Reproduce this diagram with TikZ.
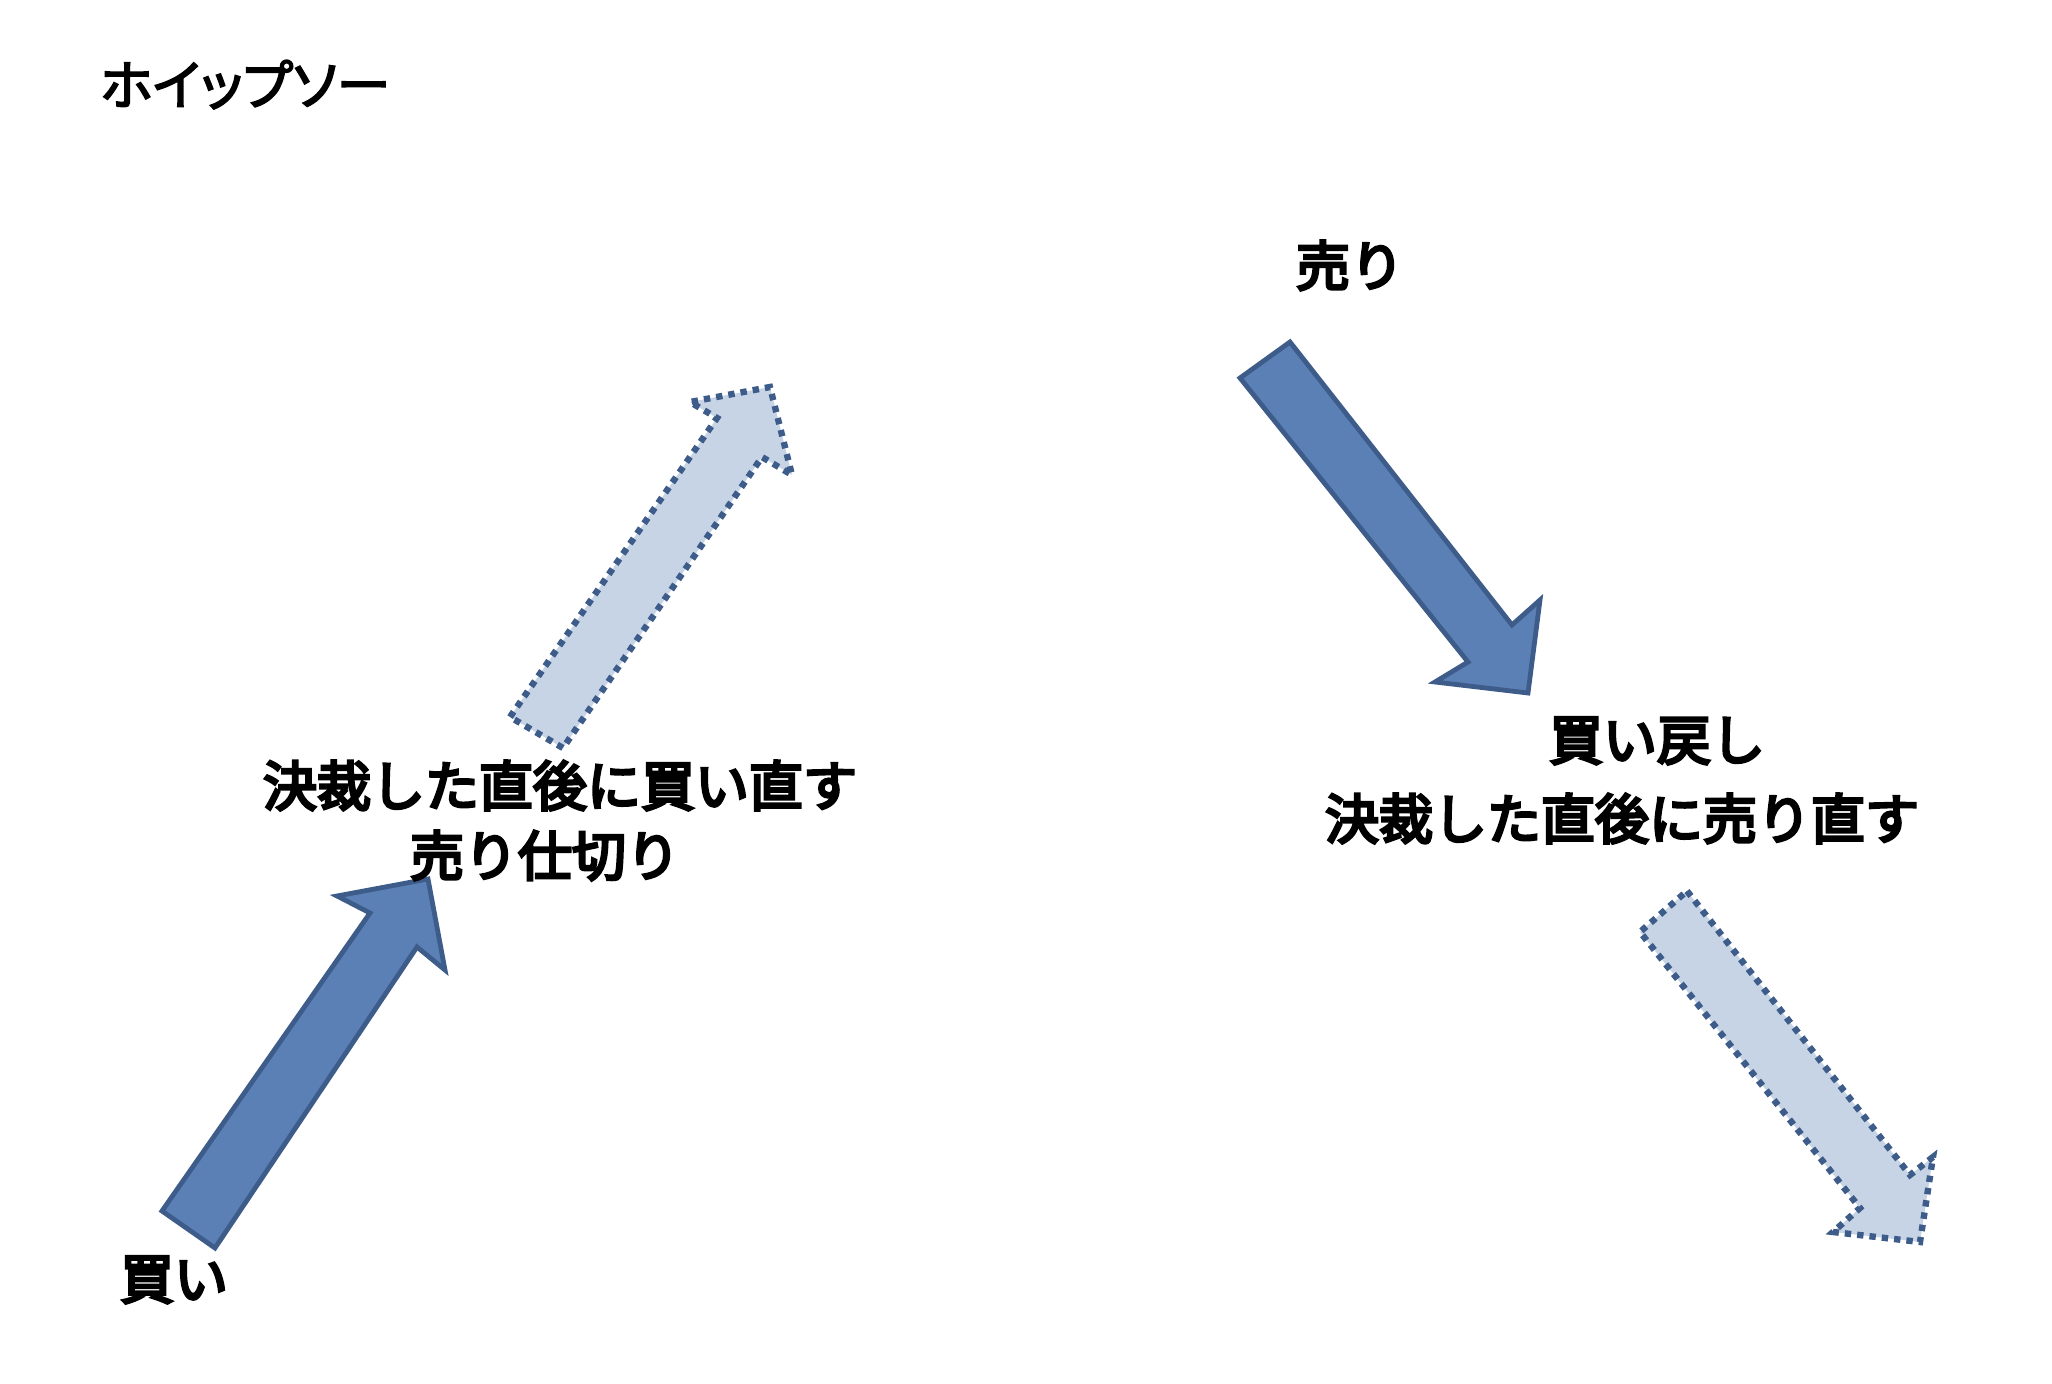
\documentclass[tikz,border=0pt]{standalone}
\usepackage{fontspec}
\newfontfamily\jp{Noto Sans CJK JP}
\newfontfamily\jpp{Noto Sans CJK JP}[RawFeature=+palt]
\newcommand\embtext[2]{\special{pdf:literal direct 2 Tr #1 w}#2\special{pdf:literal direct 0 Tr}}
\definecolor{solidfill}{HTML}{5A80B6}
\definecolor{arrowline}{HTML}{3E5C8A}
\definecolor{lightfill}{HTML}{C6D4E6}
\tikzset{
  solidarrow/.style={fill=solidfill, draw=arrowline, line width=2.4pt, line join=miter},
  dotarrow/.style={fill=lightfill, draw=arrowline, line width=3.2pt, dash pattern=on 3.2pt off 3pt, line join=miter},
  lbl/.style={inner sep=0pt, anchor=base, font=\jp\fontsize{27pt}{32pt}\selectfont},
}
\begin{document}
\begin{tikzpicture}[x=0.5pt, y=-0.5pt]
\useasboundingbox (0,0) rectangle (2052,1384);
% left solid arrow (buy)
\draw[solidarrow] (162,1211) -- (370,913) -- (337,896) -- (428,879) -- (445,970) -- (417,947) -- (215,1248) -- cycle;
% left dotted arrow
\draw[dotarrow] (510,717) -- (717,418) -- (690,402) -- (770,387) -- (792,475) -- (762,457) -- (563,748) -- cycle;
% right solid arrow (sell)
\draw[solidarrow] (1290,342) -- (1512,625) -- (1540,600) -- (1528,693) -- (1435,682) -- (1468,662) -- (1240,378) -- cycle;
% right dotted arrow
\draw[dotarrow] (1687,891) -- (1910,1175) -- (1933,1157) -- (1920,1242) -- (1833,1232) -- (1860,1208) -- (1640,932) -- cycle;
% title
\node[inner sep=0pt, anchor=base west, font=\jpp\fontsize{27pt}{32pt}\selectfont] (title) at (100,105) {\embtext{0.8}{ホイップソー}};
% labels
\node[lbl] (buy) at (174,1299) {\embtext{1.4}{買い}};
\node[lbl] (l1) at (560,806) {\embtext{1.4}{決裁した直後に買い直す}};
\node[lbl] (l2) at (545,876) {\embtext{1.4}{売り仕切り}};
\node[lbl] (sell) at (1350,286) {\embtext{1.4}{売り}};
\node[lbl] (r1) at (1657,760) {\embtext{1.4}{買い戻し}};
\node[lbl] (r2) at (1622,839) {\embtext{1.4}{決裁した直後に売り直す}};
\end{tikzpicture}
\end{document}
